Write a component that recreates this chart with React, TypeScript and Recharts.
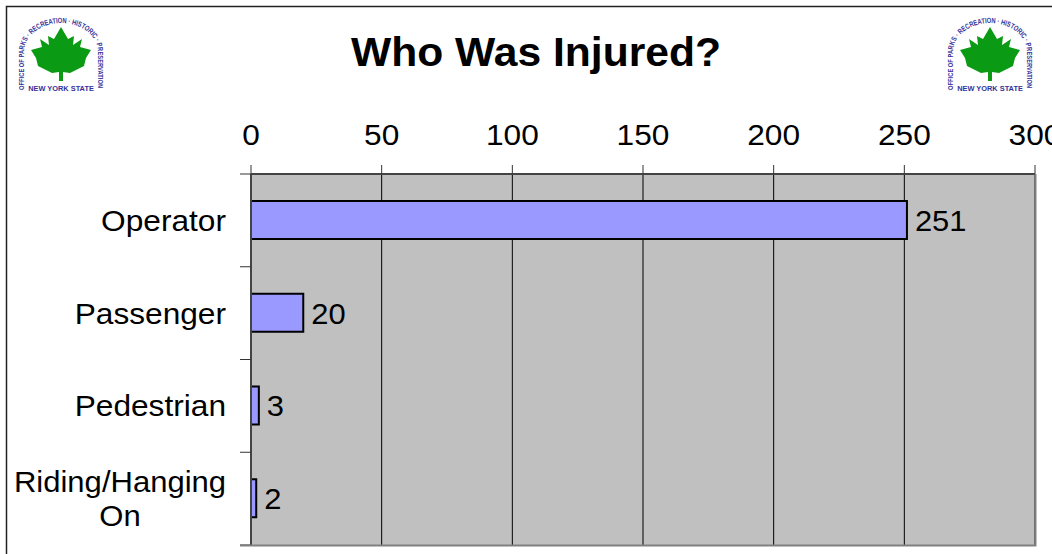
import React from "react";
import { BarChart, Bar, XAxis, YAxis, CartesianGrid, LabelList } from "recharts";

const categories = ["Operator", "Passenger", "Pedestrian", "Riding/Hanging On"];
const values = [251, 20, 3, 2];
const valueTicks = [0, 50, 100, 150, 200, 250, 300];
const wrapped: Record<string, string[]> = { "Riding/Hanging On": ["Riding/Hanging", "On"] };
const rows = categories.map((name, i) => ({ name, value: values[i] }));
const FONT = "'Liberation Sans', Arial, sans-serif";
const STRETCH = 1.055;
const SIZE = 30;
const LEAF = "0,-27 7,-15 13,-18 12,-9 21,-15 19,-7 30,-4 25,4 23,12 9,19 2,18 2,27 -2,27 -2,18 -9,19 -23,12 -25,4 -30,-4 -19,-7 -21,-15 -12,-9 -13,-18 -7,-15";

function Logo({ x, y, id }: { x: number; y: number; id: string }) {
  return (
    <g transform={`translate(${x},${y})`}>
      <path id={id} d="M-37,36 L-37,-2 A37,29 0 0 1 37,-2 L37,36" fill="none" />
      <text fontFamily={FONT} fontSize={7.5} fontWeight="bold" fill="#33339a">
        <textPath href={`#${id}`} textLength={178} lengthAdjust="spacingAndGlyphs">OFFICE OF PARKS · RECREATION · HISTORIC · PRESERVATION</textPath>
      </text>
      <polygon points={LEAF} fill="#0a9a14" />
      <text x={0} y={37} textAnchor="middle" fontFamily={FONT} fontSize={7.4} fontWeight="bold" fill="#33339a">NEW YORK STATE</text>
    </g>
  );
}

function CategoryTick({ y, payload, height, index, visibleTicksCount }: any) {
  const lines = wrapped[payload.value];
  const tf = (px: number, s: number) => `translate(${px},0) scale(${s},1)`;
  const band = height / visibleTicksCount;
  const mark = (my: number) => <line x1={240} x2={251} y1={my} y2={my} stroke="#333" strokeWidth={1} />;
  return (
    <g>
      {mark(y - band / 2)}
      {index === visibleTicksCount - 1 ? mark(y + band / 2) : null}
      {lines ? (
        lines.map((l, i) => (
          <text key={l} transform={tf(120, 1.035)} y={y - 17 + i * 34 + 10} textAnchor="middle" fontFamily={FONT} fontSize={SIZE} fill="#000">{l}</text>
        ))
      ) : (
        <text transform={tf(226, STRETCH)} y={y + 10.5} textAnchor="end" fontFamily={FONT} fontSize={SIZE} fill="#000">{payload.value}</text>
      )}
    </g>
  );
}

function ValueTick({ x, y, payload }: any) {
  return <text transform={`translate(${x},0) scale(${STRETCH},1)`} y={y - 18} textAnchor="middle" fontFamily={FONT} fontSize={SIZE} fill="#000">{payload.value}</text>;
}

function BarLabel({ x, y, width, height, value }: any) {
  return <text transform={`translate(${x + width + 8},0) scale(1.03,1)`} y={y + height / 2 + 11} fontFamily={FONT} fontSize={SIZE} fill="#000">{value}</text>;
}

export default function App() {
  return (
    <div style={{ position: "absolute", left: 0, top: 0, width: 1052, height: 554, background: "#fff", overflow: "hidden" }}>
      <BarChart width={1052} height={554} data={rows} layout="vertical" margin={{ top: 114, right: 17, bottom: 9, left: 0 }} barCategoryGap="30%">
        <CartesianGrid horizontal={false} fill="#c0c0c0" stroke="#000" strokeWidth={1} verticalValues={valueTicks} />
        <XAxis type="number" orientation="top" domain={[0, 300]} ticks={valueTicks} height={60} interval={0} tick={<ValueTick />} tickSize={9} tickLine={{ stroke: "#333" }} axisLine={{ stroke: "#444", strokeWidth: 2 }} />
        <YAxis type="category" dataKey="name" width={251} tick={<CategoryTick />} tickLine={false} axisLine={{ stroke: "#444", strokeWidth: 2 }} interval={0} />
        <Bar dataKey="value" fill="#9999ff" stroke="#000" strokeWidth={2} barSize={38} isAnimationActive={false}>
          <LabelList dataKey="value" content={<BarLabel />} />
        </Bar>
      </BarChart>
      <svg width={1052} height={554} style={{ position: "absolute", left: 0, top: 0, pointerEvents: "none" }}>
        <path d="M1052,6.5 H6.5 V554" fill="none" stroke="#222" strokeWidth={1.5} />
        <path d="M1035.5,174 V545.5 H240" fill="none" stroke="#808080" strokeWidth={2} />
        <text transform="translate(536,0) scale(1.065,1)" y={66} textAnchor="middle" fontFamily={FONT} fontWeight="bold" fontSize={40} fill="#000">Who Was Injured?</text>
        <Logo x={61} y={54} id="arcL" />
        <Logo x={990} y={54} id="arcR" />
      </svg>
    </div>
  );
}
